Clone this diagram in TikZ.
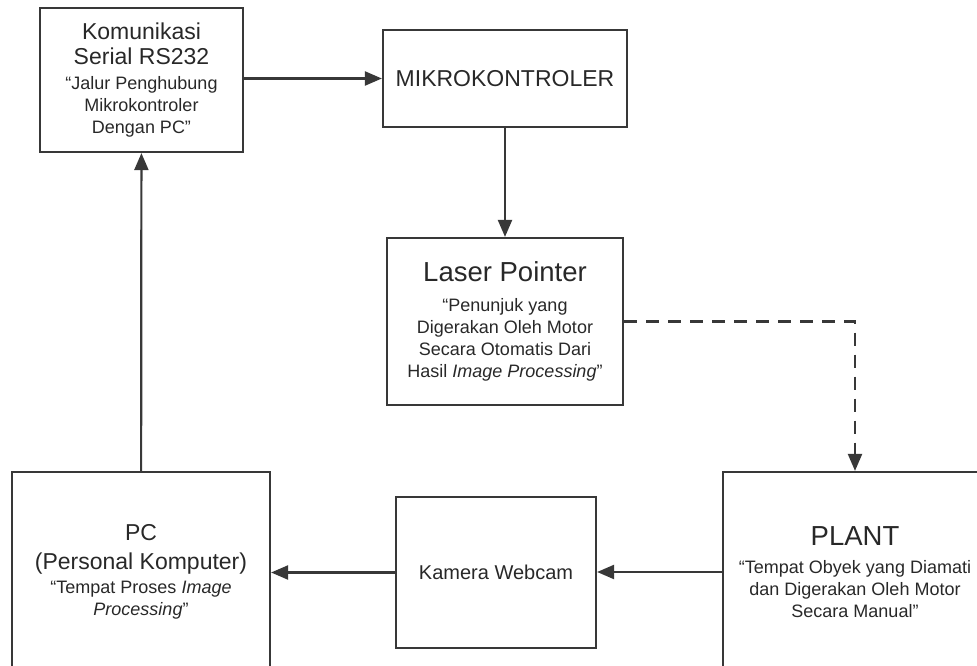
\documentclass[tikz,border=0pt]{standalone}
\usepackage{fontspec}
\setmainfont{Liberation Sans}
\usetikzlibrary{arrows.meta}
\definecolor{boxgray}{HTML}{383838}
\definecolor{txtgray}{HTML}{282828}
\newcommand{\bigtitle}{\fontsize{27.5}{30}\selectfont}
\newcommand{\midtitle}{\fontsize{23}{26}\selectfont}
\newcommand{\subline}{\fontsize{18}{22}\selectfont}
\begin{document}
\begin{tikzpicture}[x=1pt,y=-1pt, every node/.style={draw=boxgray,text=txtgray,align=center,
                      inner sep=0pt,line width=2.2pt,font=\subline},
                      link/.style={draw=boxgray,line width=2.2pt,-{Triangle[length=17pt,width=14pt]}}]
                  \useasboundingbox (0,0) rectangle (977,666);
                  \clip (0,0) rectangle (977,666);
                  \node[minimum width=203pt,minimum height=144pt] (kom) at (141.5,80)
                    {{\midtitle Komunikasi}\\[3pt]{\midtitle Serial RS232}\\[3pt]“Jalur Penghubung\\Mikrokontroler\\Dengan PC”};
                  \node[minimum width=244pt,minimum height=97pt] (mikro) at (505,78.5) {\midtitle MIKROKONTROLER};
                  \node[minimum width=236pt,minimum height=167pt] (laser) at (505,321.5)
                    {{\bigtitle Laser Pointer}\\[8pt]“Penunjuk yang\\Digerakan Oleh Motor\\Secara Otomatis Dari\\Hasil \textit{Image Processing}”};
                  \node[minimum width=258pt,minimum height=200pt] (pc) at (141,572)
                    {{\midtitle PC}\\[7pt]{\midtitle (Personal Komputer)}\\[2pt]“Tempat Proses \textit{Image}\\\textit{Processing}”};
                  \node[minimum width=200pt,minimum height=151pt] (cam) at (496,572.5) {\fontsize{20}{24}\selectfont Kamera Webcam};
                  \node[minimum width=264pt,minimum height=200pt] (plant) at (855,572)
                    {{\bigtitle PLANT}\\[6pt]“Tempat Obyek yang Diamati\\dan Digerakan Oleh Motor\\Secara Manual”};
                  \draw[link] (kom.east |- mikro.west) -- (mikro.west);
                  \draw[link] (mikro) -- (laser);
                  \draw[link,dashed,dash pattern=on 13pt off 9pt] (laser.east) -| (plant.north);
                  \draw[link] (pc) -- (kom);
                  \draw[link] (plant.west) -- (cam.east |- plant.west);
                  \draw[link] (cam.west) -- (pc.east |- cam.west);
              \end{tikzpicture}
\end{document}
